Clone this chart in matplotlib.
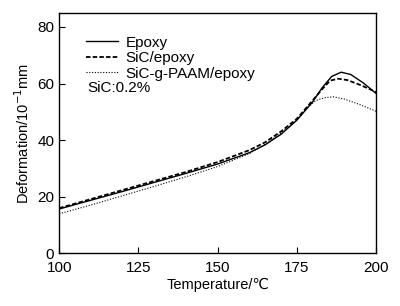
import matplotlib.pyplot as plt
import numpy as np

plt.rcParams['font.family'] = ['Liberation Sans', 'DejaVu Sans']

temp_epoxy = [100, 110, 120, 130, 140, 150, 160, 165, 170, 175, 180, 183, 186, 189, 192, 196, 200]
def_epoxy = [15.6, 18.7, 21.8, 25.0, 28.2, 31.5, 35.5, 38.3, 42.0, 47.0, 53.5, 58.5, 62.5, 64.0, 63.2, 60.2, 56.5]

temp_sic = [100, 110, 120, 130, 140, 150, 160, 165, 170, 175, 180, 183, 185.5, 188, 191, 195, 200]
def_sic = [15.9, 19.1, 22.3, 25.5, 28.7, 32.2, 36.4, 39.2, 43.0, 47.5, 54.0, 58.0, 61.0, 61.7, 61.2, 59.5, 57.0]

temp_paam = [100, 110, 120, 130, 140, 150, 160, 165, 170, 175, 178, 181, 184, 186.5, 190, 195, 200]
def_paam = [13.9, 17.0, 20.3, 23.6, 27.0, 30.6, 35.2, 38.5, 42.5, 47.0, 51.0, 54.0, 55.0, 55.3, 54.5, 52.5, 50.2]

fig, ax = plt.subplots(figsize=(4.0, 3.06), dpi=100)
fig.subplots_adjust(left=0.148, right=0.94, top=0.958, bottom=0.173)

ax.plot(temp_epoxy, def_epoxy, color='black', lw=1.0, ls='-', label='Epoxy')
ax.plot(temp_sic, def_sic, color='black', lw=1.3, ls=(0, (2.5, 1.2)), label='SiC/epoxy')
ax.plot(temp_paam, def_paam, color='black', lw=0.8, ls=(0, (1, 1.5)), label='SiC-g-PAAM/epoxy')

ax.set_xlim(100, 200)
ax.set_ylim(0, 85)
ax.set_xticks([100, 125, 150, 175, 200])
ax.set_yticks([0, 20, 40, 60, 80])
ax.tick_params(direction='in', length=4, labelsize=11, width=0.8)
ax.tick_params(axis='x', pad=6)
for s in ax.spines.values():
    s.set_linewidth(1.0)

ax.set_xlabel('Temperature/℃', fontsize=10.5, labelpad=2)
ax.set_ylabel('Deformation/10$^{-1}$mm', fontsize=10.5)

leg = ax.legend(loc='upper left', bbox_to_anchor=(0.085, 0.905), frameon=False,
                fontsize=11, handlelength=2.1, handletextpad=0.5, labelspacing=0.1,
                borderaxespad=0, borderpad=0)
ax.text(0.088, 0.687, 'SiC:0.2%', transform=ax.transAxes, fontsize=11, va='center')

fig.savefig('out.png', dpi=100)
